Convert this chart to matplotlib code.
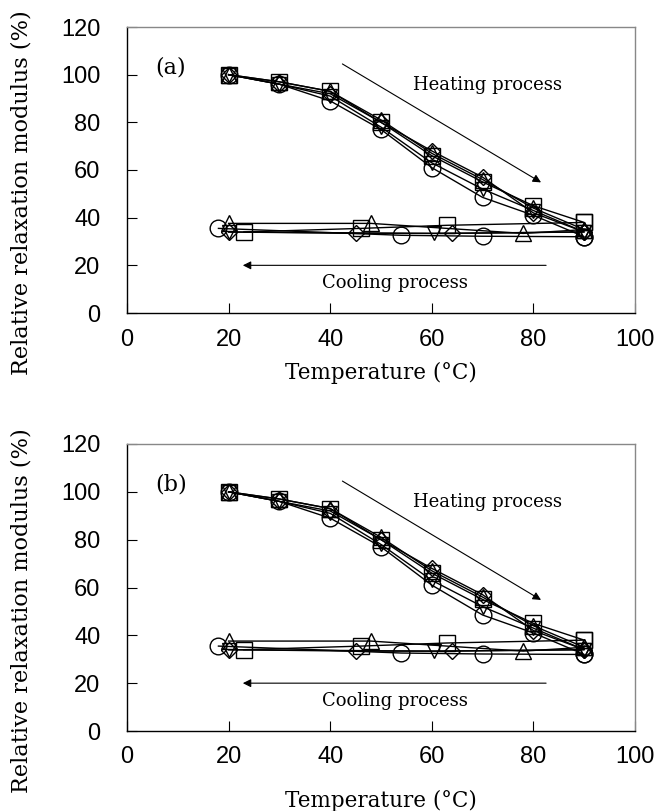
import matplotlib
matplotlib.use("Agg")
import matplotlib.pyplot as plt

# Heating process temperatures (°C)
heat_T = [20, 30, 40, 50, 60, 70, 80, 90]

# Relative relaxation modulus (%) during heating, per specimen
heat_circle = [100, 96, 89, 77, 61, 48.5, 41, 32]
heat_square = [100, 97, 93, 80, 66, 55, 45, 38]
heat_triup = [100, 97, 93, 81, 67, 56, 44, 35]
heat_diamond = [100, 96, 92, 80, 68, 57, 42, 34]
heat_tridown = [100, 96, 91, 78, 63, 52, 43, 34]

# Cooling process (temperatures and moduli), per specimen
cool_circle_T = [90, 70, 54, 18]
cool_circle_v = [32, 32.2, 32.6, 35.5]
cool_square_T = [90, 63, 46, 23]
cool_square_v = [38, 36.8, 35.5, 34]
cool_triup_T = [90, 78, 48, 20]
cool_triup_v = [35, 33.4, 37.6, 37.6]
cool_diamond_T = [90, 64, 45, 20]
cool_diamond_v = [34, 33.4, 33.4, 34]
cool_tridown_T = [90, 60.5, 20]
cool_tridown_v = [34, 33.4, 34]

series = [
    ("o", 12, heat_circle, cool_circle_T, cool_circle_v),
    ("s", 12, heat_square, cool_square_T, cool_square_v),
    ("^", 12, heat_triup, cool_triup_T, cool_triup_v),
    ("D", 8.5, heat_diamond, cool_diamond_T, cool_diamond_v),
    ("v", 10, heat_tridown, cool_tridown_T, cool_tridown_v),
]

x_ticks = [0, 20, 40, 60, 80, 100]
y_ticks = [0, 20, 40, 60, 80, 100, 120]
panel_labels = ["(a)", "(b)"]

SERIF = "DejaVu Serif"
SANS = "Liberation Sans"

fig = plt.figure(figsize=(6.6, 8.11), dpi=100)
W, H = 660, 811
boxes = [(127, 27, 635, 313), (127, 444, 635, 731)]
xlabel_off = [60, 70]   # px below bottom spine (label centre)
xtick_pad = [11.5, 10.5]

for i, ((l, t, r, b), plabel) in enumerate(zip(boxes, panel_labels)):
    ax = fig.add_axes([l / W, 1 - b / H, (r - l) / W, (b - t) / H])
    for mk, ms, hv, cT, cv in series:
        xs = heat_T + cT
        ys = hv + cv
        ax.plot(xs, ys, color="black", lw=1.0, marker=mk, ms=ms,
                mfc="none", mec="black", mew=1.0)
    ax.set_xlim(0, 100)
    ax.set_ylim(0, 120)
    ax.set_xticks(x_ticks)
    ax.set_yticks(y_ticks)
    ax.tick_params(direction="in", length=7, width=0.8, labelsize=17,
                   top=False, right=False)
    ax.tick_params(axis="x", pad=xtick_pad[i])
    ax.tick_params(axis="y", pad=19)
    for lab in ax.get_xticklabels() + ax.get_yticklabels():
        lab.set_fontfamily(SANS)
    ax.spines["left"].set_color("black")
    ax.spines["bottom"].set_color("black")
    ax.spines["top"].set_color("#888888")
    ax.spines["right"].set_color("#888888")
    for sp in ax.spines.values():
        sp.set_linewidth(1.0)
    ax.set_xlabel("Temperature (°C)", fontfamily=SERIF, fontsize=15.5, va="center")
    ax.xaxis.set_label_coords(0.5, -xlabel_off[i] / (b - t))
    ax.set_ylabel("Relative relaxation modulus (%)", fontfamily=SERIF,
                  fontsize=16.2, va="center")
    ax.yaxis.set_label_coords(-(l - 22) / (r - l), 0.42)
    ax.text(5.5, 103, plabel, fontfamily=SERIF, fontsize=16, ha="left", va="center")
    ax.annotate("", xy=(81.5, 54.8), xytext=(42.4, 104.5),
                arrowprops=dict(arrowstyle="-|>", lw=0.8, color="black",
                                mutation_scale=12, shrinkA=0, shrinkB=0))
    ax.text(71, 95.7, "Heating process", fontfamily=SERIF, fontsize=13,
            ha="center", va="center")
    ax.annotate("", xy=(22.8, 20), xytext=(82.5, 20),
                arrowprops=dict(arrowstyle="-|>", lw=0.8, color="black",
                                mutation_scale=12, shrinkA=0, shrinkB=0))
    ax.text(52.8, 12.5, "Cooling process", fontfamily=SERIF, fontsize=13,
            ha="center", va="center")

fig.savefig("out.png", dpi=100)
